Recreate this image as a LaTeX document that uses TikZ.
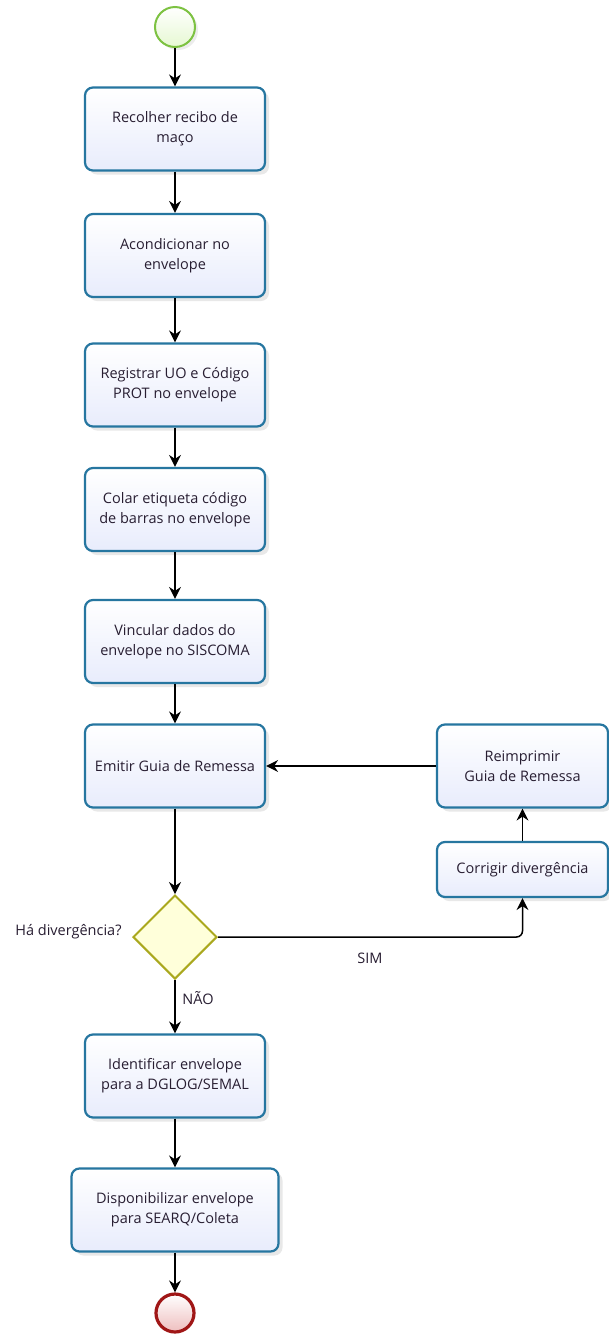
\documentclass[tikz,border=0pt]{standalone}
\usepackage{fontspec}
\setmainfont{Open Sans}
\usetikzlibrary{shapes.geometric,arrows.meta,shadows}
\pgfdeclarelayer{background}
\pgfsetlayers{background,main}
\definecolor{boxline}{RGB}{38,118,160}
\definecolor{boxfill}{RGB}{232,236,252}
\definecolor{txt}{RGB}{40,30,50}
\definecolor{gwline}{RGB}{170,168,30}
\definecolor{gwfill}{RGB}{255,255,218}
\definecolor{stline}{RGB}{125,194,66}
\definecolor{stfill}{RGB}{230,248,210}
\definecolor{enline}{RGB}{160,22,22}
\definecolor{enfill}{RGB}{238,190,190}
\tikzset{
  task/.style={draw=boxline, line width=2.2pt, rounded corners=8pt,
    top color=white, bottom color=boxfill, minimum width=180pt, minimum height=83pt,
    align=center, text=txt, font=\fontsize{14.5}{20}\selectfont,
    drop shadow={opacity=0.18, shadow xshift=4pt, shadow yshift=-4pt}},
  gate/.style={diamond, draw=gwline, line width=2pt, fill=gwfill,
    minimum width=84pt, minimum height=84pt, inner sep=0pt},
  startev/.style={circle, draw=stline, line width=2pt, top color=white, bottom color=stfill,
    minimum size=40pt, inner sep=0pt, drop shadow={opacity=0.15, shadow xshift=3pt, shadow yshift=-3pt}},
  endev/.style={circle, draw=enline, line width=3.2pt, top color=white, bottom color=enfill,
    minimum size=38pt, inner sep=0pt},
  lbl/.style={text=txt, font=\fontsize{14.5}{17}\selectfont},
  arr/.style={draw=black, line width=1.5pt, -{Stealth[length=12pt,width=12pt,inset=4pt]}},
  ghost/.style={draw=black!8, line width=1.5pt, -{Stealth[length=12pt,width=12pt,inset=4pt]},
    transform canvas={xshift=14pt,yshift=-14pt}}
}
\begin{document}
\begin{tikzpicture}[x=1pt,y=-1pt]
\useasboundingbox[fill=white] (0,0) rectangle (609,1334);
\node[startev] (s) at (175,27) {};
\node[task] (t1) at (175,129) {Recolher recibo de\\maço};
\node[task] (t2) at (175,255.5) {Acondicionar no\\envelope};
\node[task] (t3) at (175,385) {Registrar UO e Código\\PROT no envelope};
\node[task] (t4) at (175,509.5) {Colar etiqueta código\\de barras no envelope};
\node[task] (t5) at (175,641.5) {Vincular dados do\\envelope no SISCOMA};
\node[task] (t6) at (175,766) {Emitir Guia de Remessa};
\node[gate] (g) at (175,937) {};
\node[task] (t7) at (175,1076) {Identificar envelope\\para a DGLOG/SEMAL};
\node[task, minimum width=207pt] (t8) at (175,1210) {Disponibilizar envelope\\para SEARQ/Coleta};
\node[endev] (e) at (175,1313) {};
\node[task, minimum width=171pt] (r1) at (522.5,766) {Reimprimir\\Guia de Remessa};
\node[task, minimum width=171pt, minimum height=55pt] (r2) at (522.5,869.5) {Corrigir divergência};
\node[lbl, anchor=east] (lq) at (125,932) {Há divergência?};
\node[lbl] (lnao) at (198,998) {NÃO};
\node[lbl] (lsim) at (370,958) {SIM};
\begin{pgfonlayer}{background}
\draw[ghost] (t6.south) -- (g.north);
\draw[ghost] (r1.west) -- (t6.east);
\draw[ghost] (r2.north) -- (r1.south);
\draw[ghost, rounded corners=6pt] (g.east) -| (r2.south);
\draw[ghost] (s.south) -- (t1.north);
\end{pgfonlayer}
\draw[arr] (s.south) -- (t1.north);
\draw[arr] (t1.south) -- (t2.north);
\draw[arr] (t2.south) -- (t3.north);
\draw[arr] (t3.south) -- (t4.north);
\draw[arr] (t4.south) -- (t5.north);
\draw[arr] (t5.south) -- (t6.north);
\draw[arr] (t6.south) -- (g.north);
\draw[arr] (g.south) -- (t7.north);
\draw[arr] (t7.south) -- (t8.north);
\draw[arr] (t8.south) -- (e.north);
\draw[arr, rounded corners=6pt] (g.east) -| (r2.south);
\draw[arr] (r2.north) -- (r1.south);
\draw[arr] (r1.west) -- (t6.east);
\end{tikzpicture}
\end{document}
